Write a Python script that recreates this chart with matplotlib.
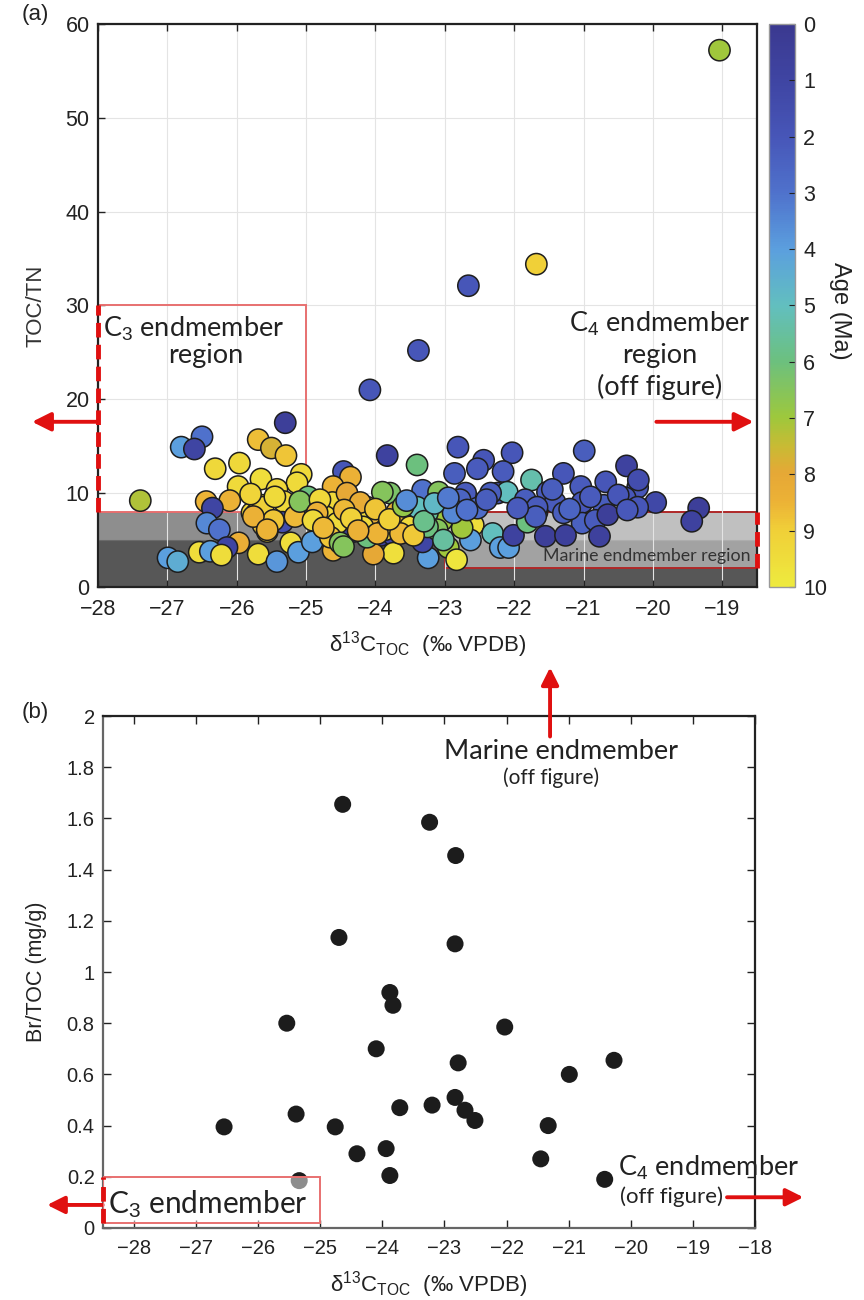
import matplotlib
matplotlib.use("Agg")
import matplotlib.pyplot as plt
import matplotlib.patches as mpatches
from matplotlib.colors import LinearSegmentedColormap
import numpy as np

plt.rcParams['font.family'] = ['Liberation Sans', 'DejaVu Sans']
plt.rcParams['mathtext.fontset'] = 'custom'
plt.rcParams['mathtext.rm'] = 'Liberation Sans'
plt.rcParams['mathtext.it'] = 'Liberation Sans:italic'
plt.rcParams['mathtext.bf'] = 'Liberation Sans:bold'

ANN = ['Lato', 'DejaVu Sans']
RED = '#e01010'
INK = '#222222'

# ---- panel (a): d13C_TOC vs TOC/TN, coloured by age (Ma) ----
d13c_a = [-25.30, -26.80, -26.50, -26.61, -25.69, -25.50, -25.29, -26.31, -25.96, -25.07,
          -25.65, -25.13, -25.98, -25.42, -25.32, -24.97, -27.39, -26.44, -26.10, -26.35,
          -25.63, -25.78, -25.62, -25.34, -24.94, -26.43, -26.25, -25.16, -25.56, -25.22,
          -25.11, -24.91, -25.97, -26.14, -26.54, -26.38, -26.22, -25.69, -26.99, -26.85,
          -25.42, -25.71, -25.62, -25.47, -25.76, -25.56, -25.09, -25.45, -25.80,
          -24.08, -23.83, -23.40, -24.46, -24.36, -24.61, -24.62, -24.72, -24.26, -24.06,
          -23.79, -23.90, -23.69, -23.53, -24.32, -23.92, -23.74, -23.74, -24.03, -24.61,
          -23.24, -23.32, -23.32, -23.09, -22.81, -22.86, -22.44, -22.53, -22.03, -22.16,
          -22.24, -22.10, -22.73, -22.59, -22.95, -22.83, -22.63, -22.31, -22.20, -22.08,
          -22.01, -20.99, -20.38, -21.29, -21.75, -20.68, -21.04, -20.22, -20.21, -21.52,
          -21.84, -21.41, -21.02, -20.71, -20.40, -19.96, -21.67, -21.29, -21.02, -20.83,
          -20.22, -20.65, -19.34, -19.44, -21.81, -21.55, -21.26, -20.77, -21.68, -22.66,
          -23.38, -19.04, -22.70, -22.78, -22.53, -23.21, -22.92, -22.34, -21.67, -20.50,
          -21.69, -20.37, -22.75, -23.04, -23.25, -24.80, -24.84, -24.55, -24.65, -24.51,
          -24.90, -24.12, -23.97, -24.18, -23.64, -23.50, -23.86, -24.12, -23.11, -23.40,
          -23.25, -22.88, -22.68, -23.02, -24.41, -24.22, -23.97, -23.64, -24.46, -24.45,
          -24.35, -24.00, -23.80, -23.60, -24.25, -23.45, -24.75, -23.30, -23.15, -22.95,
          -23.55, -21.45, -21.95, -20.90, -21.20, -22.40]
toc_tn = [17.5, 14.9, 16.0, 14.7, 15.7, 14.8, 14.0, 12.6, 13.2, 12.0,
          11.5, 11.1, 10.7, 10.4, 9.1, 9.6, 9.2, 9.1, 9.2, 8.4,
          8.7, 7.9, 6.6, 6.9, 8.2, 6.8, 6.1, 7.5, 5.9, 4.7,
          3.7, 4.8, 4.7, 4.2, 3.7, 3.8, 3.4, 3.5, 3.1, 2.7,
          2.7, 7.9, 8.5, 7.1, 7.5, 6.1, 9.1, 9.6, 9.9,
          21.0, 14.0, 13.0, 12.3, 11.7, 10.7, 9.0, 7.5, 8.7, 7.7,
          10.0, 10.1, 8.0, 7.9, 5.9, 5.5, 5.5, 3.6, 3.5, 3.9,
          3.1, 4.8, 10.3, 10.1, 14.9, 12.1, 13.5, 12.6, 14.3, 12.3,
          10.0, 10.1, 7.1, 6.6, 4.2, 2.9, 5.0, 5.7, 4.2, 4.2,
          5.5, 14.5, 12.9, 12.1, 11.4, 11.2, 10.7, 10.6, 11.4, 10.1,
          9.3, 9.0, 9.0, 8.7, 9.5, 9.0, 8.0, 7.9, 6.8, 7.1,
          8.5, 7.7, 8.4, 7.0, 6.9, 5.4, 5.5, 5.4, 34.4, 32.1,
          25.2, 57.2, 10.0, 9.3, 8.4, 8.4, 8.5, 10.0, 8.5, 9.8,
          7.5, 8.2, 6.3, 7.1, 7.9, 9.3, 7.9, 6.8, 5.3, 4.7,
          7.1, 8.5, 7.1, 6.4, 6.4, 6.4, 6.1, 5.3, 6.1, 8.5,
          6.4, 7.9, 8.2, 5.0, 10.0, 9.0, 5.7, 5.7, 4.3, 8.2,
          7.3, 8.3, 7.2, 8.6, 6.0, 5.5, 6.3, 7.0, 8.9, 9.5,
          9.2, 10.4, 8.4, 9.6, 8.3, 9.3]
age_a = [0.5, 4.0, 3.0, 1.0, 8.7, 7.7, 8.8, 9.3, 9.3, 9.3,
         9.5, 9.4, 9.4, 9.3, 9.3, 6.0, 7.2, 8.5, 8.4, 1.0,
         9.4, 9.3, 8.8, 1.5, 1.8, 3.5, 3.0, 8.6, 9.2, 9.5,
         4.0, 4.0, 8.3, 1.0, 9.5, 4.0, 9.5, 9.5, 4.0, 4.4,
         3.8, 9.2, 9.0, 8.8, 8.4, 8.5, 6.5, 9.4, 9.2,
         2.0, 0.8, 6.0, 2.0, 8.4, 8.5, 9.3, 9.3, 9.2, 9.4,
         6.3, 6.5, 8.3, 9.0, 0.8, 0.7, 1.0, 9.6, 8.0, 8.5,
         4.0, 1.0, 3.0, 6.5, 2.0, 2.3, 2.0, 2.2, 2.0, 2.2,
         2.0, 5.0, 6.5, 9.5, 7.0, 9.8, 4.0, 5.0, 4.0, 4.0,
         0.8, 2.3, 0.8, 2.0, 5.3, 2.0, 2.2, 2.0, 1.5, 2.2,
         2.3, 2.2, 2.0, 2.3, 2.0, 1.2, 2.2, 2.3, 2.4, 2.2,
         2.0, 0.5, 0.5, 0.8, 6.0, 0.5, 0.6, 0.7, 9.0, 2.0,
         2.0, 7.0, 2.2, 2.5, 2.8, 5.0, 6.5, 2.3, 2.2, 2.0,
         2.3, 2.1, 7.0, 7.0, 5.5, 9.3, 8.4, 9.4, 8.8, 6.5,
         9.4, 9.3, 8.4, 9.3, 8.5, 9.3, 9.2, 6.0, 6.5, 5.0,
         6.0, 3.5, 3.0, 5.5, 8.0, 8.2, 8.5, 8.6, 6.5, 8.6,
         9.1, 8.8, 9.0, 6.8, 8.4, 8.9, 8.6, 5.8, 4.8, 3.2,
         3.6, 2.3, 2.2, 2.2, 2.5, 2.3]

# ---- panel (b): d13C_TOC vs Br/TOC ----
d13c_b = [-24.64, -23.24, -24.70, -23.88, -23.83, -22.82, -22.83, -25.54, -24.10, -23.72,
          -25.39, -26.55, -24.76, -24.41, -23.94, -23.88, -25.34, -22.03, -22.78, -20.27,
          -20.99, -22.83, -23.20, -22.67, -22.51, -21.33, -21.45, -20.42]
br_toc = [1.655, 1.585, 1.135, 0.92, 0.87, 1.455, 1.11, 0.80, 0.70, 0.47,
          0.445, 0.395, 0.395, 0.29, 0.31, 0.205, 0.185, 0.785, 0.645, 0.655,
          0.60, 0.51, 0.48, 0.46, 0.42, 0.40, 0.27, 0.19]

xticks_a = list(range(-28, -18))
yticks_a = list(range(0, 61, 10))
cbar_ticks = list(range(0, 11))
xticks_b = list(range(-28, -17))
yticks_b = [0, 0.2, 0.4, 0.6, 0.8, 1, 1.2, 1.4, 1.6, 1.8, 2]
ytick_labels_b = ['0', '0.2', '0.4', '0.6', '0.8', '1', '1.2', '1.4', '1.6', '1.8', '2']

age_cmap = LinearSegmentedColormap.from_list('age', [
    (0.00, '#3b3990'), (0.10, '#3f45a3'), (0.20, '#4756b8'), (0.30, '#4f72cc'),
    (0.40, '#5b9fde'), (0.50, '#62bfbf'), (0.60, '#6cc07e'), (0.70, '#9ec83c'),
    (0.75, '#c8bb34'), (0.80, '#e6a836'), (0.85, '#ecb236'), (0.90, '#f0cf38'),
    (1.00, '#eeea3e')])

XLAB = r'δ$^{13}$C$_{\mathrm{TOC}}$  (‰ VPDB)'

fig = plt.figure(figsize=(8.64, 13.0), dpi=100, facecolor='white')

# ================= panel (a) =================
ax = fig.add_axes([0.1134, 0.5485, 0.7627, 0.4331])
ax.set_xlim(-28, -18.5)
ax.set_ylim(0, 60)

# endmember shading
ax.add_patch(mpatches.Rectangle((-28, 0), 9.5, 5, facecolor='#575757', edgecolor='none', zorder=0.2))
ax.add_patch(mpatches.Rectangle((-28, 5), 9.5, 3, facecolor='#8e8e8e', edgecolor='#6a6a6a',
                                lw=0.8, zorder=0.2))
ax.add_patch(mpatches.Rectangle((-23, 2), 4.5, 6, facecolor='white', alpha=0.45,
                                edgecolor='none', zorder=0.3))
ax.add_patch(mpatches.Rectangle((-23, 2), 4.5, 6, facecolor='none', edgecolor='#b02828',
                                lw=1.4, zorder=0.35))
ax.plot([-18.5, -18.5], [2, 8], color=RED, lw=3.5, ls=(0, (3, 1.5)), clip_on=False, zorder=6)
ax.text(-18.6, 3.3, 'Marine endmember region', family=ANN, fontsize=12.8, color='#333333',
        ha='right', va='center', zorder=2)

ax.add_patch(mpatches.Rectangle((-28, 8), 3, 22, facecolor='none', edgecolor='#e87070',
                                lw=1.4, zorder=1))
ax.plot([-28, -28], [8, 30], color=RED, lw=3.5, ls=(0, (3, 1.5)), clip_on=False, zorder=6)

ax.grid(True, color='#e4e4e4', lw=0.8)
ax.set_axisbelow(True)

sc = ax.scatter(d13c_a, toc_tn, c=age_a, cmap=age_cmap, vmin=0, vmax=10, s=235,
                edgecolors='#1e1e1e', linewidths=1.1, zorder=3)

ax.text(-27.93, 29.0, 'C$_3$ endmember', family=ANN, fontsize=19.5, color=INK,
        ha='left', va='top', zorder=5)
ax.text(-26.45, 26.0, 'region', family=ANN, fontsize=19.5, color=INK,
        ha='center', va='top', zorder=5)
ax.text(-19.9, 29.6, 'C$_4$ endmember\nregion\n(off figure)', family=ANN, fontsize=19.5,
        color=INK, ha='center', va='top', linespacing=1.27, zorder=5)

ax.annotate('', xy=(-28.95, 17.6), xytext=(-28.0, 17.6), annotation_clip=False,
            arrowprops=dict(arrowstyle='-|>', color=RED, lw=2.8, mutation_scale=28,
                            shrinkA=0, shrinkB=0))
ax.annotate('', xy=(-18.55, 17.6), xytext=(-19.95, 17.6), annotation_clip=False,
            arrowprops=dict(arrowstyle='-|>', color=RED, lw=2.8, mutation_scale=28,
                            shrinkA=0, shrinkB=0))

ax.set_xticks(xticks_a)
ax.set_xticklabels([f'\u2212{abs(v)}' for v in xticks_a])
ax.set_yticks(yticks_a)
ax.tick_params(direction='in', length=5, width=1, labelsize=15.5, colors=INK,
               top=True, right=False, pad=6)
ax.tick_params(axis='x', pad=9)
for s in ax.spines.values():
    s.set_color('#222222')
    s.set_linewidth(1.6)
ax.set_ylabel('TOC/TN', fontsize=16, color='#333333', labelpad=14)
ax.set_xlabel(XLAB, fontsize=16, color=INK, labelpad=6)
fig.text(0.025, 0.989, '(a)', fontsize=16, color=INK, ha='left', va='center')

cax = fig.add_axes([0.890, 0.5485, 0.030, 0.4331])
cb = fig.colorbar(sc, cax=cax)
cax.invert_yaxis()
cb.set_ticks(cbar_ticks)
cb.outline.set_edgecolor('#999999')
cb.outline.set_linewidth(1.0)
cax.tick_params(direction='in', length=4, width=0.8, labelsize=15.5, colors=INK, pad=6)
cb.set_label('Age (Ma)', fontsize=17, color=INK, rotation=270, labelpad=22)
cax.yaxis.set_label_coords(3.15, 0.49)

# ================= panel (b) =================
bx = fig.add_axes([0.1192, 0.0554, 0.7546, 0.3938])
bx.set_xlim(-28.5, -18)
bx.set_ylim(0, 2)

bx.scatter(d13c_b, br_toc, s=150, color='#1c1c1c', edgecolors='none', zorder=3)

bx.add_patch(mpatches.Rectangle((-28.5, 0.02), 3.5, 0.18, facecolor='white', alpha=0.5,
                                edgecolor='none', zorder=4))
bx.add_patch(mpatches.Rectangle((-28.5, 0.02), 3.5, 0.18, facecolor='none',
                                edgecolor='#e87070', lw=1.4, zorder=4))
bx.plot([-28.5, -28.5], [0.02, 0.2], color=RED, lw=3.5, ls=(0, (3, 1.5)), clip_on=False, zorder=6)
bx.text(-28.42, 0.095, 'C$_3$ endmember', family=ANN, fontsize=21.5, color=INK,
        ha='left', va='center', zorder=5)
bx.annotate('', xy=(-29.4, 0.09), xytext=(-28.5, 0.09), annotation_clip=False,
            arrowprops=dict(arrowstyle='-|>', color=RED, lw=2.8, mutation_scale=26,
                            shrinkA=0, shrinkB=0))

bx.text(-20.2, 0.235, 'C$_4$ endmember', family=ANN, fontsize=19.5, color=INK,
        ha='left', va='center', zorder=5)
bx.text(-20.17, 0.123, '(off figure)', family=ANN, fontsize=16, color=INK,
        ha='left', va='center', zorder=5)
bx.annotate('', xy=(-17.22, 0.12), xytext=(-18.45, 0.12), annotation_clip=False,
            arrowprops=dict(arrowstyle='-|>', color=RED, lw=2.8, mutation_scale=26,
                            shrinkA=0, shrinkB=0))

bx.annotate('', xy=(-21.3, 2.19), xytext=(-21.3, 1.92), annotation_clip=False,
            arrowprops=dict(arrowstyle='-|>', color=RED, lw=2.8, mutation_scale=26,
                            shrinkA=0, shrinkB=0))
bx.text(-21.13, 1.86, 'Marine endmember', family=ANN, fontsize=19.5, color=INK,
        ha='center', va='center', zorder=5)
bx.text(-21.28, 1.76, '(off figure)', family=ANN, fontsize=15, color=INK,
        ha='center', va='center', zorder=5)

bx.set_xticks(xticks_b)
bx.set_xticklabels([f'\u2212{abs(v)}' for v in xticks_b])
bx.set_yticks(yticks_b)
bx.set_yticklabels(ytick_labels_b)
bx.tick_params(direction='in', length=6, width=1, labelsize=14.5, colors=INK,
               top=True, right=True, pad=6)
bx.tick_params(axis='x', pad=8)
for name, s in bx.spines.items():
    s.set_linewidth(1.6)
    s.set_color('#666666' if name in ('left', 'bottom') else '#222222')
bx.set_ylabel('Br/TOC (mg/g)', fontsize=15.5, color=INK, labelpad=14)
bx.set_xlabel(XLAB, fontsize=16, color=INK, labelpad=8)
fig.text(0.025, 0.452, '(b)', fontsize=16, color=INK, ha='left', va='center')

fig.savefig('out.png', dpi=100, facecolor='white')
